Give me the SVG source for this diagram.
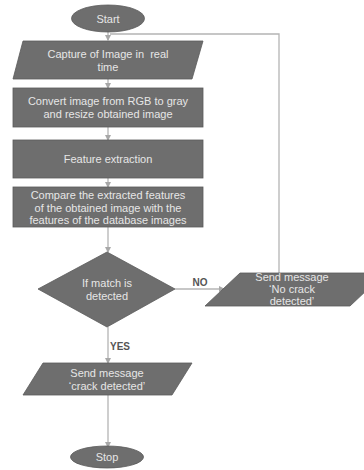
<svg xmlns="http://www.w3.org/2000/svg" width="364" height="470" viewBox="0 0 364 470">
<style>
.shape{fill:#6e6e6e;stroke:#5a5a5a;stroke-width:0.8}
.t{font-family:"Liberation Sans",Arial,sans-serif;font-size:11px;fill:#e6e6e6;text-anchor:middle}
.lbl{font-family:"Liberation Sans",Arial,sans-serif;font-size:10px;font-weight:bold;fill:#555;text-anchor:middle}
.c{fill:none;stroke:#b4b4b4;stroke-width:1.3}
</style>
<defs>
<marker id="ah" viewBox="0 0 6 6" refX="5" refY="3" markerWidth="5" markerHeight="5" orient="auto">
<path d="M0,0 L6,3 L0,6 z" fill="#a8a8a8"/>
</marker>
</defs>
<rect width="364" height="470" fill="#ffffff"/>
<g id="connectors">
<path class="c" d="M108,32 V40" marker-end="url(#ah)"/>
<path class="c" d="M108,79 V88" marker-end="url(#ah)"/>
<path class="c" d="M108,127 V140" marker-end="url(#ah)"/>
<path class="c" d="M108,178 V187" marker-end="url(#ah)"/>
<path class="c" d="M108,227 V252" marker-end="url(#ah)"/>
<path class="c" d="M175,289 H224" marker-end="url(#ah)"/>
<path class="c" d="M279,273 V34 H110"/>
<path class="c" d="M108,327 V363" marker-end="url(#ah)"/>
<path class="c" d="M108,395 V447" marker-end="url(#ah)"/>
<text class="lbl" x="200" y="286">NO</text>
<text class="lbl" x="120" y="350">YES</text>
</g>
<g id="start">
<ellipse class="shape" cx="108" cy="18.5" rx="36.5" ry="13.5"/>
<text class="t" x="108" y="22.5">Start</text>
</g>
<g id="capture">
<polygon class="shape" points="23,41 203,41 192,79 13,79"/>
<text class="t" x="108" y="58" xml:space="preserve">Capture of Image in  real</text>
<text class="t" x="108" y="71">time</text>
</g>
<g id="convert">
<rect class="shape" x="13" y="88" width="190" height="39"/>
<text class="t" x="108" y="105">Convert image from RGB to gray</text>
<text class="t" x="108" y="118">and resize obtained image</text>
</g>
<g id="feature">
<rect class="shape" x="13" y="140" width="190" height="38"/>
<text class="t" x="108" y="163">Feature extraction</text>
</g>
<g id="compare">
<rect class="shape" x="13" y="187" width="190" height="40"/>
<text class="t" x="108" y="199">Compare the extracted features</text>
<text class="t" x="108" y="212">of the obtained image with the</text>
<text class="t" x="108" y="224">features of the database images</text>
</g>
<g id="decision">
<polygon class="shape" points="107,252 175,289 107,327 38,289"/>
<text class="t" x="107" y="287">If match is</text>
<text class="t" x="107" y="300">detected</text>
</g>
<g id="nocrack">
<polygon class="shape" points="240,273 385,273 350,306 205,306"/>
<text class="t" x="292" y="281">Send message</text>
<text class="t" x="292" y="293">‘No crack</text>
<text class="t" x="292" y="305">detected’</text>
</g>
<g id="crack">
<polygon class="shape" points="43,363 192,363 172,395 23,395"/>
<text class="t" x="107" y="377">Send message</text>
<text class="t" x="107" y="390">‘crack detected’</text>
</g>
<g id="stop">
<ellipse class="shape" cx="107" cy="457" rx="36.5" ry="11"/>
<text class="t" x="107" y="461">Stop</text>
</g>
</svg>
